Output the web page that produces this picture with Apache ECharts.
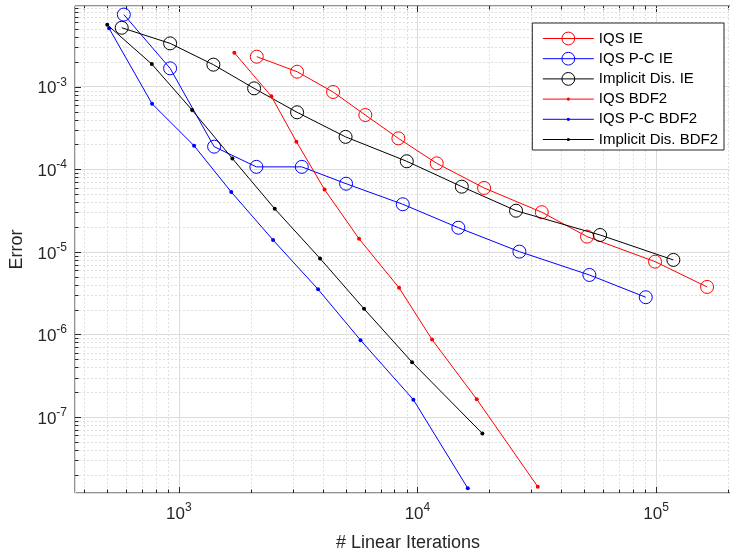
<!DOCTYPE html>
<html>
<head>
<meta charset="utf-8">
<script src="https://cdn.jsdelivr.net/npm/echarts@6/dist/echarts.min.js"></script>
<style>
html,body{margin:0;padding:0;background:#fff;}
#chart{width:730px;height:556px;}
</style>
</head>
<body>
<div id="chart"></div>
<script>
// ---- Data ----
const seriesNames = ['IQS IE', 'IQS P-C IE', 'Implicit Dis. IE', 'IQS BDF2', 'IQS P-C BDF2', 'Implicit Dis. BDF2'];

const xIqsIE = [2121, 3129, 4430, 6047, 8318, 12046, 19020, 33190, 51370, 99040, 163600];
const yIqsIE = [2.31e-3, 1.52e-3, 8.63e-4, 4.54e-4, 2.37e-4, 1.18e-4, 5.94e-5, 3.02e-5, 1.53e-5, 7.61e-6, 3.76e-6];

const xPcIE = [588, 919, 1405, 2113, 3275, 5022, 8678, 14840, 26740, 52550, 90530];
const yPcIE = [7.48e-3, 1.67e-3, 1.88e-4, 1.07e-4, 1.07e-4, 6.69e-5, 3.77e-5, 1.96e-5, 1.006e-5, 5.25e-6, 2.82e-6];

const xImpIE = [576, 919, 1395, 2067, 3129, 4997, 9019, 15340, 25890, 58260, 118200];
const yImpIE = [5.18e-3, 3.35e-3, 1.85e-3, 9.56e-4, 4.9e-4, 2.47e-4, 1.25e-4, 6.16e-5, 3.15e-5, 1.6e-5, 7.98e-6];

const xIqsBDF2 = [1708, 2442, 3109, 4079, 5691, 8374, 11515, 17720, 31930];
const yIqsBDF2 = [2.58e-3, 7.65e-4, 2.16e-4, 5.69e-5, 1.44e-5, 3.67e-6, 8.65e-7, 1.64e-7, 1.43e-8];

const xPcBDF2 = [510, 772, 1158, 1658, 2482, 3832, 5774, 9612, 16250];
const yPcBDF2 = [5.09e-3, 6.22e-4, 1.93e-4, 5.31e-5, 1.39e-5, 3.52e-6, 8.51e-7, 1.62e-7, 1.37e-8];

const xImpBDF2 = [501, 770, 1136, 1676, 2523, 3906, 5973, 9493, 18710];
const yImpBDF2 = [5.63e-3, 1.88e-3, 5.22e-4, 1.35e-4, 3.32e-5, 8.32e-6, 2.04e-6, 4.61e-7, 6.3e-8];

const xTickExponents = [3, 4, 5];
const yTickExponents = [-7, -6, -5, -4, -3];

const xMin = 367, xMax = 2.27e5;
const yMin = 1.2e-8, yMax = 9.5e-3;

// ---- Helpers ----
function zip(xs, ys) { return xs.map((x, i) => [x, ys[i]]); }
const FONT = '"Liberation Sans", Arial, Helvetica, sans-serif';
const AXIS_COLOR = '#262626';

function powLabel(v) {
  const l = Math.log10(v);
  const e = Math.round(l);
  if (Math.abs(l - e) > 1e-6) return '';
  return '{b|10}{sup|' + e + '}';
}
const labelRich = {
  b: { fontSize: 17, lineHeight: 21, verticalAlign: 'bottom', color: AXIS_COLOR, fontFamily: FONT },
  sup: { fontSize: 12, lineHeight: 12, verticalAlign: 'top', color: AXIS_COLOR, fontFamily: FONT }
};

// Axis structure (minor grid + ticks) items: [x, y, kind]
const gridItems = [];
for (let e = 2; e <= 5; e++) {
  for (let m = 1; m <= 9; m++) {
    const v = m * Math.pow(10, e);
    if (v <= xMin || v >= xMax) continue;
    gridItems.push([v, 1e-5, m === 1 ? 2 : 0]);
  }
}
for (let e = -8; e <= -3; e++) {
  for (let m = 1; m <= 9; m++) {
    const v = m * Math.pow(10, e);
    if (v <= yMin || v >= yMax) continue;
    gridItems.push([1000, v, m === 1 ? 3 : 1]);
  }
}

function renderGrid(params, api) {
  const cs = params.coordSys;
  const kind = api.value(2);
  const pt = api.coord([api.value(0), api.value(1)]);
  const children = [];
  const minorStyle = { stroke: '#e0e0e0', lineWidth: 1, lineDash: [2, 2] };
  const tickStyle = { stroke: AXIS_COLOR, lineWidth: 1 };
  const top = cs.y, bottom = cs.y + cs.height, left = cs.x, right = cs.x + cs.width;
  if (kind === 0 || kind === 2) {
    const px = Math.round(pt[0]) + 0.5;
    const len = kind === 2 ? 6 : 3.5;
    if (kind === 0) {
      children.push({ type: 'line', shape: { x1: px, y1: top, x2: px, y2: bottom }, style: minorStyle });
    }
    children.push({ type: 'line', shape: { x1: px, y1: bottom, x2: px, y2: bottom - len }, style: tickStyle });
    children.push({ type: 'line', shape: { x1: px, y1: top, x2: px, y2: top + len }, style: tickStyle });
  } else {
    const py = Math.round(pt[1]) + 0.5;
    const len = kind === 3 ? 6 : 3.5;
    if (kind === 1) {
      children.push({ type: 'line', shape: { x1: left, y1: py, x2: right, y2: py }, style: minorStyle });
    }
    children.push({ type: 'line', shape: { x1: left, y1: py, x2: left + len, y2: py }, style: tickStyle });
    children.push({ type: 'line', shape: { x1: right, y1: py, x2: right - len, y2: py }, style: tickStyle });
  }
  return { type: 'group', children: children };
}

const DOT = 'path://M0,0M16,16M6,8a2,2 0 1,0 4,0a2,2 0 1,0 -4,0z';

function circleSeries(name, data, color, z) {
  return {
    name: name, type: 'line', data: data, z: z,
    symbol: 'circle', symbolSize: 13, showSymbol: true,
    lineStyle: { color: color, width: 1 },
    itemStyle: { color: 'rgba(255,255,255,0)', borderColor: color, borderWidth: 1 },
    emphasis: { disabled: true }
  };
}
function dotSeries(name, data, color, z) {
  return {
    name: name, type: 'line', data: data, z: z,
    symbol: DOT, symbolSize: 16, showSymbol: true,
    lineStyle: { color: color, width: 1 },
    itemStyle: { color: color },
    emphasis: { disabled: true }
  };
}

const chart = echarts.init(document.getElementById('chart'), null, { renderer: 'canvas' });
chart.setOption({
  animation: false,
  backgroundColor: '#fff',
  textStyle: { fontFamily: FONT },
  grid: {
    left: 75, top: 6, width: 666, height: 487,
    outerBoundsMode: 'none', containLabel: false,
    show: true, borderColor: AXIS_COLOR, borderWidth: 1, backgroundColor: '#fff'
  },
  legend: {
    orient: 'vertical', right: 6, top: 23,
    itemWidth: 51, itemHeight: 16, itemGap: 5.2,
    padding: [8, 6, 3, 10],
    backgroundColor: '#fff', borderColor: AXIS_COLOR, borderWidth: 1, borderRadius: 0,
    textStyle: { fontSize: 15, color: '#000', fontFamily: FONT },
    lineStyle: { width: 1 },
    itemStyle: { borderWidth: 1 },
    data: seriesNames,
    selectedMode: false
  },
  xAxis: {
    type: 'log', logBase: 10, min: xMin, max: xMax,
    name: '# Linear Iterations', nameLocation: 'middle', nameGap: 41,
    nameTextStyle: { fontSize: 18, color: AXIS_COLOR, fontFamily: FONT },
    axisLine: { show: false },
    axisTick: { show: false },
    axisLabel: { formatter: powLabel, rich: labelRich, margin: 9, showMinLabel: false, showMaxLabel: false },
    splitLine: { show: true, lineStyle: { color: '#dcdcdc', width: 1 } },
    minorTick: { show: false }, minorSplitLine: { show: false }
  },
  yAxis: {
    type: 'log', logBase: 10, min: yMin, max: yMax,
    name: 'Error', nameLocation: 'middle', nameGap: 46,
    nameTextStyle: { fontSize: 18, color: AXIS_COLOR, fontFamily: FONT },
    axisLine: { show: false },
    axisTick: { show: false },
    axisLabel: { formatter: powLabel, rich: labelRich, margin: 8, showMinLabel: false, showMaxLabel: false },
    splitLine: { show: true, lineStyle: { color: '#dcdcdc', width: 1 } },
    minorTick: { show: false }, minorSplitLine: { show: false }
  },
  series: [
    {
      type: 'custom', renderItem: renderGrid, data: gridItems, z: 1, silent: true,
      encode: { x: 0, y: 1 }, clip: false
    },
    circleSeries(seriesNames[0], zip(xIqsIE, yIqsIE), '#ff0000', 3),
    circleSeries(seriesNames[1], zip(xPcIE, yPcIE), '#0000ff', 4),
    circleSeries(seriesNames[2], zip(xImpIE, yImpIE), '#000000', 5),
    dotSeries(seriesNames[3], zip(xIqsBDF2, yIqsBDF2), '#ff0000', 6),
    dotSeries(seriesNames[4], zip(xPcBDF2, yPcBDF2), '#0000ff', 7),
    dotSeries(seriesNames[5], zip(xImpBDF2, yImpBDF2), '#000000', 8)
  ]
});
</script>
</body>
</html>
